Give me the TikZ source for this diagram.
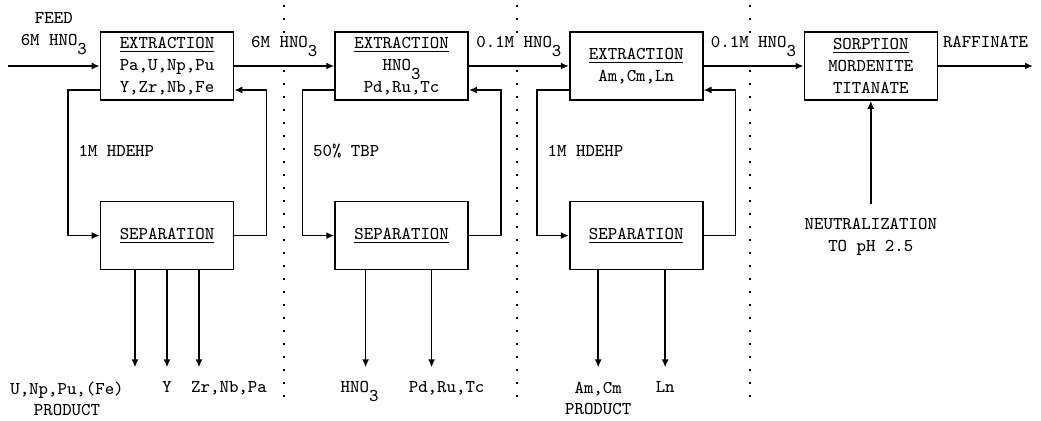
\documentclass[tikz,border=0pt]{standalone}
\usepackage{tikz}
\usetikzlibrary{arrows.meta, positioning}
\newcommand{\HNO}{HNO\raisebox{-4.5pt}{3}}

\begin{document}
\begin{tikzpicture}[
    x=0.5pt, y=-0.5pt,
    node distance=50pt and 50pt,
    font=\ttfamily\fontsize{9}{10.5}\selectfont,
    unit/.style={rectangle, draw, thick, align=center, minimum width=66.5pt, minimum height=34pt, inner sep=2pt},
    arrow/.style={-{Latex[length=4pt, width=3.5pt]}, thick},
    lbl/.style={align=center, inner sep=1pt},
    divider/.style={line width=1pt, dash pattern=on 1pt off 5.5pt}
]
    \useasboundingbox (0,0) rectangle (1041,421);

    \foreach \x in {284,517,750}
        \draw[divider] (\x,5) -- (\x,398);

    \node[unit] (ext1) at (167,66) {\underline{EXTRACTION}\\[0.5pt]Pa,U,Np,Pu\\[0.5pt]Y,Zr,Nb,Fe};
    \node[unit, right=of ext1] (ext2) {\underline{EXTRACTION}\\[0.5pt]\HNO\\[0.5pt]Pd,Ru,Tc};
    \node[unit, right=of ext2] (ext3) {\underline{EXTRACTION}\\[0.5pt]Am,Cm,Ln};
    \node[unit, right=of ext3] (sorp) {\underline{SORPTION}\\[0.5pt]MORDENITE\\[0.5pt]TITANATE};
    \node[unit, below=of ext1] (sep1) {\underline{SEPARATION}};
    \node[unit, below=of ext2] (sep2) {\underline{SEPARATION}};
    \node[unit, below=of ext3] (sep3) {\underline{SEPARATION}};
    \node[lbl, below=51.5pt of sorp, inner ysep=7pt] (neut) {NEUTRALIZATION\\[0.5pt]TO pH 2.5};

    \coordinate (feed) at (8,66);
    \coordinate (raff) at (1033,66);

    \draw[arrow] (feed) -- node[lbl, above=4pt] {FEED\\[0.5pt]6M \HNO} (ext1);
    \draw[arrow] (ext1) -- node[lbl, fill=white, above=3pt] {6M \HNO} (ext2);
    \draw[arrow] (ext2) -- node[lbl, fill=white, above=3pt] {0.1M \HNO} (ext3);
    \draw[arrow] (ext3) -- node[lbl, fill=white, above=3pt] {0.1M \HNO} (sorp);
    \draw[arrow] (sorp) -- node[lbl, above=7.5pt] {RAFFINATE} (raff);
    \draw[arrow] (neut) -- (sorp);

    \draw[arrow] ([yshift=-12pt]ext1.west) -| ([xshift=-16pt]sep1.west) node[lbl, pos=0.71, right=4pt] {1M HDEHP} -- (sep1.west);
    \draw[arrow] (sep1.east) -| ([xshift=16pt, yshift=-12pt]ext1.east) -- ([yshift=-12pt]ext1.east);
    \draw[arrow] ([yshift=-12pt]ext2.west) -| ([xshift=-16pt]sep2.west) node[lbl, pos=0.71, right=4pt] {50\% TBP} -- (sep2.west);
    \draw[arrow] (sep2.east) -| ([xshift=16pt, yshift=-12pt]ext2.east) -- ([yshift=-12pt]ext2.east);
    \draw[arrow] ([yshift=-12pt]ext3.west) -| ([xshift=-16pt]sep3.west) node[lbl, pos=0.71, right=4pt] {1M HDEHP} -- (sep3.west);
    \draw[arrow] (sep3.east) -| ([xshift=16pt, yshift=-12pt]ext3.east) -- ([yshift=-12pt]ext3.east);

    \draw[arrow] ([xshift=-16pt]sep1.south) -- ++(0,97) coordinate (o11);
    \draw[arrow] (sep1.south) -- ++(0,97) coordinate (o12);
    \draw[arrow] ([xshift=16pt]sep1.south) -- ++(0,97) coordinate (o13);
    \draw[arrow] ([xshift=-18pt]sep2.south) -- ++(0,97) coordinate (o21);
    \draw[arrow] ([xshift=15pt]sep2.south) -- ++(0,97) coordinate (o22);
    \draw[arrow] ([xshift=-19pt]sep3.south) -- ++(0,97) coordinate (o31);
    \draw[arrow] ([xshift=14.5pt]sep3.south) -- ++(0,97) coordinate (o32);

    \node[lbl, below=6pt of o11, xshift=-34pt] (prod1) {U,Np,Pu,(Fe)\\PRODUCT};
    \node[lbl, below=6pt of o12] (yttr) {Y};
    \node[lbl, below=6pt of o13, xshift=15pt] (zrnb) {Zr,Nb,Pa};
    \node[lbl, below=6pt of o21, xshift=-3pt] (acid) {\HNO};
    \node[lbl, below=6pt of o22, xshift=7.5pt] (pdru) {Pd,Ru,Tc};
    \node[lbl, below=6pt of o31] (prod3) {Am,Cm\\PRODUCT};
    \node[lbl, below=6pt of o32] (lant) {Ln};

\end{tikzpicture}
\end{document}
